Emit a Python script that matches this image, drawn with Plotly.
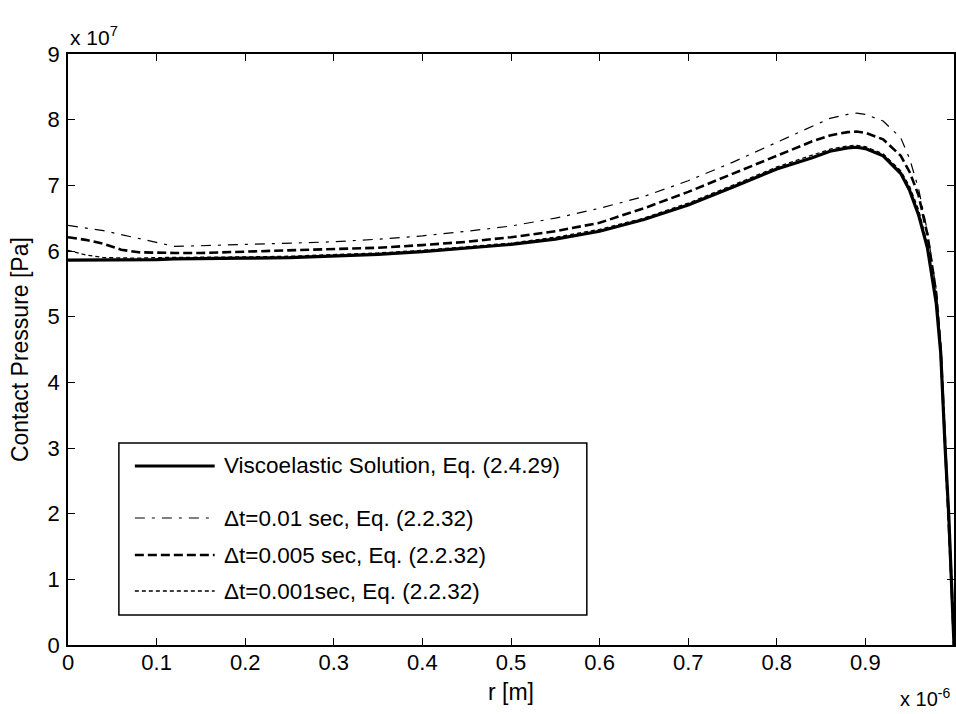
import plotly.graph_objects as go

# r in units of 1e-6 m, pressure in units of 1e7 Pa
r = [0, 0.02, 0.04, 0.06, 0.08, 0.1, 0.12, 0.15, 0.2, 0.25, 0.3, 0.35, 0.4, 0.45,
     0.5, 0.55, 0.6, 0.65, 0.7, 0.75, 0.8, 0.84, 0.86, 0.88, 0.89, 0.9, 0.92, 0.94,
     0.95, 0.96, 0.97, 0.98, 0.985, 0.99, 0.994, 0.997, 1.0]

p_visco = [5.86, 5.86, 5.86, 5.86, 5.86, 5.87, 5.88, 5.88, 5.89, 5.9, 5.92, 5.95, 5.99, 6.04,
           6.1, 6.18, 6.3, 6.48, 6.7, 6.97, 7.25, 7.42, 7.52, 7.57, 7.58, 7.56, 7.45, 7.18,
           6.92, 6.55, 6.05, 5.2, 4.45, 3.0, 2.0, 1.0, 0.0]

p_dt001 = [6.39, 6.35, 6.31, 6.25, 6.19, 6.13, 6.07, 6.08, 6.1, 6.12, 6.14, 6.18, 6.23, 6.3,
           6.38, 6.5, 6.65, 6.83, 7.07, 7.35, 7.65, 7.9, 8.02, 8.08, 8.1, 8.08, 7.98, 7.72,
           7.4, 6.95, 6.3, 5.4, 4.5, 3.1, 2.05, 1.0, 0.0]

p_dt0005 = [6.21, 6.17, 6.11, 6.02, 5.98, 5.97, 5.97, 5.97, 5.99, 6.0, 6.02, 6.05, 6.09, 6.14,
            6.21, 6.3, 6.43, 6.65, 6.9, 7.17, 7.45, 7.67, 7.76, 7.81, 7.82, 7.8, 7.7, 7.45,
            7.2, 6.85, 6.25, 5.35, 4.5, 3.05, 2.0, 1.0, 0.0]

p_dt0001 = [6.01, 5.94, 5.9, 5.89, 5.89, 5.9, 5.9, 5.9, 5.91, 5.92, 5.94, 5.97, 6.01, 6.06,
            6.12, 6.21, 6.33, 6.5, 6.73, 7.0, 7.28, 7.46, 7.55, 7.6, 7.61, 7.59, 7.48, 7.22,
            6.98, 6.63, 6.1, 5.25, 4.45, 3.0, 2.0, 1.0, 0.0]

x_ticks = [0, 0.1, 0.2, 0.3, 0.4, 0.5, 0.6, 0.7, 0.8, 0.9, 1]
x_ticklabels = ["0", "0.1", "0.2", "0.3", "0.4", "0.5", "0.6", "0.7", "0.8", "0.9", "1"]
y_ticks = [0, 1, 2, 3, 4, 5, 6, 7, 8, 9]

labels = ["Viscoelastic Solution, Eq. (2.4.29)",
          "\u0394t=0.01 sec, Eq. (2.2.32)",
          "\u0394t=0.005 sec, Eq. (2.2.32)",
          "\u0394t=0.001sec, Eq. (2.2.32)"]
series = [p_visco, p_dt001, p_dt0005, p_dt0001]
styles = [dict(width=3.2, dash="solid"),
          dict(width=1.2, dash="10px,7px,3px,7px"),
          dict(width=2.6, dash="9px,4px"),
          dict(width=1.3, dash="4px,3px")]

FONT = "Liberation Sans"
W, H = 956, 714
L, R, T, B = 68, 0, 54, 69
pw, ph = W - L - R, H - T - B

def px(xp):
    return (xp - L) / pw

def py(yp):
    return (H - B - yp) / ph

fig = go.Figure()
for name, ys, st in zip(labels, series, styles):
    fig.add_trace(go.Scatter(x=r, y=ys, mode="lines", name=name, showlegend=False,
                             line=dict(color="black", width=st["width"], dash=st["dash"])))

shapes = []
annotations = []
# legend box
shapes.append(dict(type="rect", xref="paper", yref="paper",
                   x0=px(119), x1=px(588), y0=py(615), y1=py(443),
                   line=dict(color="black", width=1.5), fillcolor="white", layer="above"))
row_y = [466, 518, 555, 591]
for name, st, yy in zip(labels, styles, row_y):
    shapes.append(dict(type="line", xref="paper", yref="paper",
                       x0=px(135), x1=px(215), y0=py(yy), y1=py(yy), layer="above",
                       line=dict(color="black", width=st["width"], dash=st["dash"])))
    annotations.append(dict(text=name, xref="paper", yref="paper", x=px(222), y=py(yy),
                            xanchor="left", yanchor="middle", showarrow=False,
                            font=dict(family=FONT, size=22.5, color="black")))

annotations.append(dict(text="x 10<sup>7</sup>", xref="paper", yref="paper",
                        x=px(68), y=py(36), xanchor="left", yanchor="middle",
                        showarrow=False, font=dict(family=FONT, size=21, color="black")))
annotations.append(dict(text="x 10<sup>-6</sup>", xref="paper", yref="paper",
                        x=px(954), y=py(712), xanchor="right", yanchor="bottom",
                        showarrow=False, font=dict(family=FONT, size=20, color="black")))
annotations.append(dict(text="r [m]", xref="paper", yref="paper",
                        x=px(512), y=py(692), xanchor="center", yanchor="middle",
                        showarrow=False, font=dict(family=FONT, size=23, color="black")))
annotations.append(dict(text="Contact Pressure [Pa]", xref="paper", yref="paper",
                        x=px(20), y=py(350), xanchor="center", yanchor="middle",
                        textangle=-90,
                        showarrow=False, font=dict(family=FONT, size=23, color="black")))

axis_common = dict(showline=True, linecolor="black", linewidth=1.5, mirror="ticks",
                   ticks="inside", ticklen=7, tickwidth=1.2, tickcolor="black",
                   showgrid=False, zeroline=False,
                   tickfont=dict(family=FONT, size=22, color="black"))

fig.update_layout(
    width=W, height=H,
    margin=dict(l=L, r=R, t=T, b=B, pad=0),
    paper_bgcolor="white", plot_bgcolor="white",
    xaxis=dict(range=[0, 1], tickmode="array", tickvals=x_ticks, ticktext=x_ticklabels,
               ticklabelstandoff=-3, **axis_common),
    yaxis=dict(range=[0, 9], tickmode="array", tickvals=y_ticks,
               ticklabelstandoff=2, **axis_common),
    shapes=shapes, annotations=annotations,
    showlegend=False,
)

fig.write_html("out.html")
